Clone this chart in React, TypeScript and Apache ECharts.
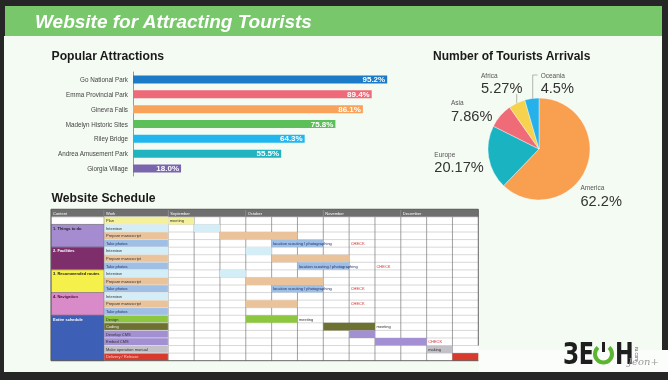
import React, { useEffect, useRef } from 'react';
import * as echarts from 'echarts';

// ---------- Popular Attractions ----------
const attractions = ['Go National Park', 'Emma Provincial Park', 'Ginevra Falls', 'Madelyn Historic Sites', 'Riley Bridge', 'Andrea Amusement Park', 'Giorgia Village'];
const attractionValues = [95.2, 89.4, 86.1, 75.8, 64.3, 55.5, 18.0];
const attractionColors = ['#1b7bc6', '#ef6a79', '#f9a35a', '#5cbf5a', '#21b7ee', '#22b3c1', '#7a66ad'];

// ---------- Tourist arrivals ----------
const regions = ['America', 'Europe', 'Asia', 'Africa', 'Oceania'];
const regionShares = [62.2, 20.17, 7.86, 5.27, 4.5];
const regionColors = ['#f9a050', '#1ab3c2', '#ef6b78', '#f6d24e', '#27b1eb'];

// ---------- Website schedule ----------
const months = ['September', 'October', 'November', 'December'];
const weeksPerMonth = 3;
const headerLabels = ['Content', 'Work'];
const workItems = ['Plan', 'Interview', 'Prepare manuscript', 'Take photos', 'Interview', 'Prepare manuscript', 'Take photos', 'Interview', 'Prepare manuscript', 'Take photos', 'Interview', 'Prepare manuscript', 'Take photos', 'Design', 'Coding', 'Develop CMS', 'Embed CMS', 'Make operation manual', 'Delivery / Release'];
const contentGroups = ['', '1. Things to do', '2. Facilities', '3. Recommended routes', '4. Navigation', 'Entire schedule'];
const contentGroupSizes = [1, 3, 3, 3, 3, 6];
// tasks: row index in workItems, first week, number of weeks, text inside
const taskRows = [0, 1, 2, 3, 4, 5, 6, 7, 8, 9, 11, 13, 14, 15, 16, 17, 18];
const taskStarts = [0, 1, 2, 4, 3, 4, 5, 2, 3, 4, 3, 3, 6, 7, 8, 10, 11];
const taskLengths = [1, 1, 3, 2, 1, 3, 2, 1, 3, 2, 2, 2, 2, 1, 2, 1, 1];
const taskTexts = ['meeting', '', '', 'location scouting / photographing', '', '', 'location scouting / photographing', '', '', 'location scouting / photographing', '', '', '', '', '', 'making', ''];
// notes written in empty cells
const noteRows = [3, 6, 9, 11, 13, 14, 16];
const noteWeeks = [7, 8, 7, 7, 5, 8, 10];
const noteTexts = ['CHECK', 'CHECK', 'CHECK', 'CHECK', 'meeting', 'meeting', 'CHECK'];

// ---------- styles ----------
const FONT = 'Liberation Sans, Arial, Helvetica, sans-serif';
const workStyle: Record<string, [string, string]> = {
  'Plan': ['#f5f19a', '#333333'],
  'Interview': ['#d3eef7', '#333333'],
  'Prepare manuscript': ['#eac39b', '#333333'],
  'Take photos': ['#9fbfe5', '#22336e'],
  'Design': ['#8dc63f', '#333333'],
  'Coding': ['#6d7132', '#f0f0e0'],
  'Develop CMS': ['#a390d2', '#333333'],
  'Embed CMS': ['#a390d2', '#333333'],
  'Make operation manual': ['#c4c0c8', '#333333'],
  'Delivery / Release': ['#d83a2e', '#f8c8c2'],
};
const contentColors = ['#ffffff', '#a58bd0', '#7e2f6b', '#f6f04a', '#d98bc9', '#3e5fb6'];
const contentTextColors = ['#222222', '#222222', '#ffffff', '#222222', '#4a1030', '#ffffff'];
const COL_CONTENT = [-4.54, -2.49];
const COL_WORK = [-2.49, 0];
const WEEKS = months.length * weeksPerMonth;
const ROWS = workItems.length + 1;

const pieLabelAnchor: Record<string, [number, number]> = {
  America: [580.5, 183.2], Europe: [434.3, 149.5], Asia: [451, 98.2], Africa: [481, 70.5], Oceania: [540.7, 70.5],
};
const pieLeader: Record<string, number[][]> = {
  Africa: [[516.7, 104], [516.7, 99], [516.7, 94]],
  Oceania: [[532.7, 100], [532.7, 75], [537.5, 75]],
};

const cellRect = (api: any, x0: number, x1: number, y0: number, y1: number) => {
  const a = api.coord([x0, y0]);
  const b = api.coord([x1, y1]);
  return { x: Math.min(a[0], b[0]), y: Math.min(a[1], b[1]), width: Math.abs(b[0] - a[0]), height: Math.abs(b[1] - a[1]) };
};
const tinyText = (text: string, x: number, y: number, fill: string, bold = false) => ({
  type: 'text', x, y,
  style: { text, fill, fontSize: 4, fontFamily: FONT, fontWeight: bold ? 'bold' : 'normal', align: 'left', verticalAlign: 'middle' },
});

function buildOption() {
  const headerSpans = [COL_CONTENT, COL_WORK, ...months.map((_, i) => [i * weeksPerMonth, (i + 1) * weeksPerMonth])];
  const headerTexts = [...headerLabels, ...months];
  const headerData = headerSpans.map((s, i) => [s[0], s[1], 0, 1, i]);

  let start = 0;
  const contentData = contentGroups.map((_, i) => {
    const d = [COL_CONTENT[0], COL_CONTENT[1], start + 1, start + 1 + contentGroupSizes[i], i];
    start += contentGroupSizes[i];
    return d;
  });
  const workData = workItems.map((_, r) => [COL_WORK[0], COL_WORK[1], r + 1, r + 2, r]);
  const hLineData: number[][] = [];
  for (let r = 2; r < ROWS; r++) hLineData.push([0, WEEKS, r, r]);
  const vLineData: number[][] = [];
  for (let c = 0; c < WEEKS; c++) vLineData.push([c, c, 1, ROWS]);
  const taskData = taskRows.map((row, i) => [taskStarts[i], taskStarts[i] + taskLengths[i], row + 1, row + 2, i]);
  const noteData = noteRows.map((row, i) => [noteWeeks[i], row + 1.5, i]);
  const borderData = [
    [COL_CONTENT[0], WEEKS, 0, 0],
    [COL_CONTENT[0], COL_CONTENT[0], 0, ROWS],
    [COL_CONTENT[0], WEEKS, ROWS, ROWS],
    [WEEKS, WEEKS, 0, ROWS - 2],
  ];

  const lineItem = (stroke: string, w: number) => (_p: any, api: any) => {
    const a = api.coord([api.value(0), api.value(2)]);
    const b = api.coord([api.value(1), api.value(3)]);
    return { type: 'line', shape: { x1: a[0], y1: a[1], x2: b[0], y2: b[1] }, style: { stroke, lineWidth: w } };
  };
  const tableSeries = (data: any[], renderItem: any, z: number) => ({
    type: 'custom', xAxisIndex: 1, yAxisIndex: 1, silent: true, z, data, renderItem,
  });

  return {
    animation: false,
    backgroundColor: 'transparent',
    graphic: [
      { type: 'rect', shape: { x: 0, y: 0, width: 668, height: 380 }, style: { fill: '#262626' } },
      { type: 'rect', shape: { x: 4, y: 36, width: 658, height: 336 }, style: { fill: '#f4fbf2' } },
      { type: 'rect', shape: { x: 5, y: 6, width: 657, height: 30 }, style: { fill: '#78c86b' } },
      { type: 'rect', shape: { x: 479, y: 350, width: 189, height: 22 }, style: { fill: '#fbfdfb' } },
      { type: 'text', x: 563, y: 353.5, scaleX: 0.72, style: { text: 'ЗЕ', fill: '#1e1e1e', fontSize: 31, fontWeight: 'bold', fontFamily: 'DejaVu Sans', verticalAlign: 'middle' } },
      { type: 'arc', shape: { cx: 603.5, cy: 354, r: 8.5, startAngle: -Math.PI / 2 + 0.7, endAngle: (3 * Math.PI) / 2 - 0.7 }, style: { stroke: '#5cb531', lineWidth: 4, fill: 'none' } },
      { type: 'rect', shape: { x: 602, y: 342, width: 3, height: 10 }, style: { fill: '#1e1e1e' } },
      { type: 'text', x: 615, y: 353.5, scaleX: 0.72, style: { text: 'Н', fill: '#1e1e1e', fontSize: 31, fontWeight: 'bold', fontFamily: 'DejaVu Sans', verticalAlign: 'middle' } },
      { type: 'text', x: 636, y: 354, rotation: -Math.PI / 2, style: { text: 'ru.com', fill: '#555', fontSize: 4.5, fontFamily: FONT, align: 'center', verticalAlign: 'middle' } },
      { type: 'text', x: 628, y: 361, style: { text: 'Jeon+', fill: '#9a9a9a', fontSize: 10, fontStyle: 'italic', fontFamily: 'DejaVu Serif', verticalAlign: 'middle' } },
    ],
    title: [
      { text: 'Website for Attracting Tourists', left: 35, top: 10.5, padding: 0, textStyle: { color: '#ffffff', fontSize: 19, fontWeight: 'bold', fontStyle: 'italic', fontFamily: FONT, lineHeight: 22 } },
      { text: 'Popular Attractions', left: 51.5, top: 48.7, padding: 0, textStyle: { color: '#1a1a1a', fontSize: 12.2, fontWeight: 'bold', fontFamily: FONT, lineHeight: 14 } },
      { text: 'Number of Tourists Arrivals', left: 433, top: 48.7, padding: 0, textStyle: { color: '#1a1a1a', fontSize: 12, fontWeight: 'bold', fontFamily: FONT, lineHeight: 14 } },
      { text: 'Website Schedule', left: 51.5, top: 190.7, padding: 0, textStyle: { color: '#1a1a1a', fontSize: 12.2, fontWeight: 'bold', fontFamily: FONT, lineHeight: 14 } },
    ],
    grid: [
      { left: 133, top: 72, width: 267, height: 104 },
      { left: 51, top: 209.3, width: 427.3, height: 151.4 },
    ],
    xAxis: [
      { gridIndex: 0, type: 'value', min: 0, max: 100, show: false },
      { gridIndex: 1, type: 'value', min: COL_CONTENT[0], max: WEEKS, show: false },
    ],
    yAxis: [
      {
        gridIndex: 0, type: 'category', data: attractions, inverse: true,
        axisLine: { show: true, lineStyle: { color: '#9a9a9a', width: 1 } },
        axisTick: { show: false },
        axisLabel: { color: '#444', fontSize: 6.3, fontFamily: FONT, margin: 5 },
      },
      { gridIndex: 1, type: 'value', min: 0, max: ROWS, inverse: true, show: false },
    ],
    series: [
      {
        type: 'bar', xAxisIndex: 0, yAxisIndex: 0, barWidth: 8,
        data: attractionValues.map((v, i) => ({ value: v, itemStyle: { color: attractionColors[i] } })),
        label: {
          show: true, position: 'insideRight', distance: 2,
          formatter: (p: any) => `${Number(p.value).toFixed(1)}%`,
          color: '#ffffff', fontWeight: 'bold', fontSize: 8, fontFamily: FONT,
        },
      },
      {
        type: 'pie', center: [539, 149], radius: 51, startAngle: 90, clockwise: true,
        avoidLabelOverlap: false,
        itemStyle: { borderColor: '#ffffff', borderWidth: 0.4 },
        data: regions.map((r, i) => ({
          name: r, value: regionShares[i], itemStyle: { color: regionColors[i] },
          labelLine: pieLeader[r] ? { show: true, lineStyle: { color: '#888', width: 0.6 } } : { show: false },
        })),
        label: {
          formatter: (p: any) => `{n|${p.name}}\n{v|${p.value}%}`,
          rich: {
            n: { fontSize: 6.5, color: '#555', lineHeight: 9, fontFamily: FONT },
            v: { fontSize: 14.6, color: '#333', lineHeight: 17, fontFamily: FONT },
          },
        },
        labelLine: { show: false },
        labelLayout: (params: any) => {
          const name = regions[params.dataIndex];
          const a = pieLabelAnchor[name];
          const out: any = { x: a[0], y: a[1], align: 'left', verticalAlign: 'top' };
          if (pieLeader[name]) out.labelLinePoints = pieLeader[name];
          return out;
        },
      },
      // timeline background
      tableSeries([[0, WEEKS, 1, ROWS]], (_p: any, api: any) => ({
        type: 'rect', shape: cellRect(api, api.value(0), api.value(1), api.value(2), api.value(3)), style: { fill: '#ffffff' },
      }), 2),
      tableSeries(hLineData, lineItem('#bdbdbd', 0.6), 3),
      tableSeries(vLineData, lineItem('#7a7a7a', 0.7), 3),
      // tasks
      tableSeries(taskData, (_p: any, api: any) => {
        const i = api.value(4);
        const r = cellRect(api, api.value(0), api.value(1), api.value(2), api.value(3));
        const st = workStyle[workItems[taskRows[i]]];
        const children: any[] = [{ type: 'rect', shape: r, style: { fill: st[0] } }];
        if (taskTexts[i]) children.push(tinyText(taskTexts[i], r.x + 1.5, r.y + r.height / 2, st[1] === '#f8c8c2' ? st[1] : st[1]));
        return { type: 'group', children };
      }, 4),
      // notes
      tableSeries(noteData, (_p: any, api: any) => {
        const i = api.value(2);
        const p = api.coord([api.value(0), api.value(1)]);
        return tinyText(noteTexts[i], p[0] + 1.5, p[1], noteTexts[i] === 'CHECK' ? '#d0312d' : '#333333');
      }, 5),
      // header
      tableSeries(headerData, (_p: any, api: any) => {
        const i = api.value(4);
        const r = cellRect(api, api.value(0), api.value(1), api.value(2), api.value(3));
        return { type: 'group', children: [
          { type: 'rect', shape: r, style: { fill: '#6f6f6f', stroke: '#8c8c8c', lineWidth: 0.4 } },
          tinyText(headerTexts[i], r.x + 2, r.y + r.height / 2, '#ffffff'),
        ] };
      }, 5),
      // work column
      tableSeries(workData, (_p: any, api: any) => {
        const i = api.value(4);
        const r = cellRect(api, api.value(0), api.value(1), api.value(2), api.value(3));
        const st = workStyle[workItems[i]];
        return { type: 'group', children: [
          { type: 'rect', shape: r, style: { fill: st[0], stroke: '#e6e6e6', lineWidth: 0.5 } },
          tinyText(workItems[i], r.x + 2, r.y + r.height / 2, st[1]),
        ] };
      }, 5),
      // content column
      tableSeries(contentData, (_p: any, api: any) => {
        const i = api.value(4);
        const r = cellRect(api, api.value(0), api.value(1), api.value(2), api.value(3));
        const rowH = api.size([0, 1])[1];
        return { type: 'group', children: [
          { type: 'rect', shape: r, style: { fill: contentColors[i], stroke: '#5a5a5a', lineWidth: 0.4 } },
          tinyText(contentGroups[i], r.x + 2, r.y + rowH / 2, contentTextColors[i], true),
        ] };
      }, 5),
      tableSeries(borderData, lineItem('#555555', 0.9), 6),
    ],
  };
}

export default function App() {
  const ref = useRef<HTMLDivElement>(null);
  useEffect(() => {
    const chart = echarts.init(ref.current as HTMLDivElement, null, { renderer: 'svg' });
    chart.setOption(buildOption() as any);
    return () => chart.dispose();
  }, []);
  return <div ref={ref} style={{ position: 'fixed', left: 0, top: 0, width: 668, height: 380 }} />;
}
